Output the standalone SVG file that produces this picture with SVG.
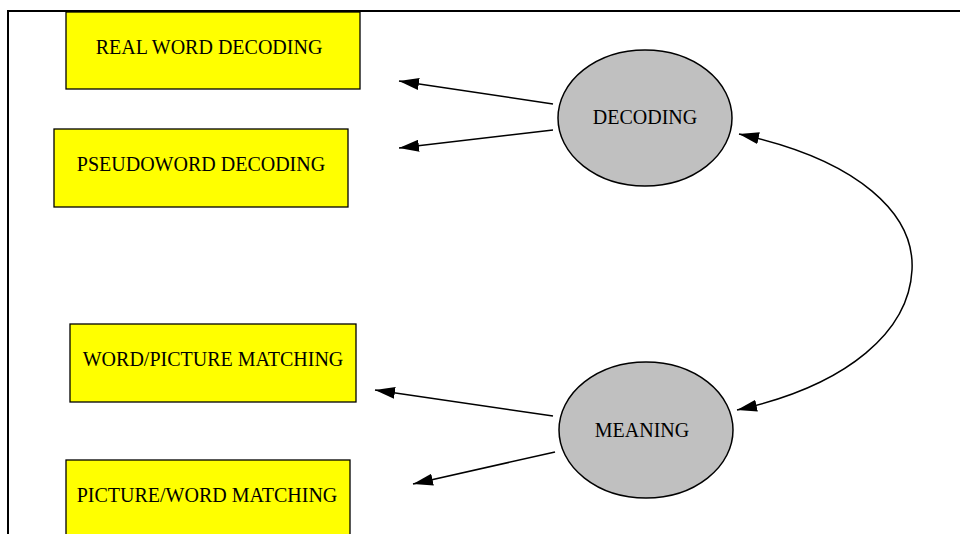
<svg xmlns="http://www.w3.org/2000/svg" width="960" height="534" viewBox="0 0 960 534">
  <style>
    .box { fill: #ffff00; stroke: #000; stroke-width: 1.3; }
    .latent { fill: #c0c0c0; stroke: #000; stroke-width: 1.5; }
    .lbl { font-family: "Liberation Serif", "Times New Roman", serif; font-size: 20px; fill: #000; text-anchor: middle; }
    .edge { fill: none; stroke: #000; stroke-width: 1.5; }
  </style>
  <defs>
    <marker id="arrow" viewBox="0 0 20 12" refX="20" refY="6" markerWidth="20" markerHeight="12" markerUnits="userSpaceOnUse" orient="auto">
      <path d="M0,0 L20,6 L0,12 Z" fill="#000"/>
    </marker>
    <marker id="arrowStart" viewBox="0 0 20 12" refX="0" refY="6" markerWidth="20" markerHeight="12" markerUnits="userSpaceOnUse" orient="auto">
      <path d="M20,0 L0,6 L20,12 Z" fill="#000"/>
    </marker>
  </defs>
  <rect width="960" height="534" fill="#fff"/>
  <!-- frame -->
  <path d="M8,534 V11 H960" fill="none" stroke="#000" stroke-width="2"/>

  <g id="real-word-decoding">
    <rect class="box" x="66" y="12" width="294" height="77"/>
    <text class="lbl" x="209" y="54">REAL WORD DECODING</text>
  </g>
  <g id="pseudoword-decoding">
    <rect class="box" x="54" y="129" width="294" height="78"/>
    <text class="lbl" x="201" y="171">PSEUDOWORD DECODING</text>
  </g>
  <g id="word-picture-matching">
    <rect class="box" x="70" y="324" width="286" height="78"/>
    <text class="lbl" x="213" y="366">WORD/PICTURE MATCHING</text>
  </g>
  <g id="picture-word-matching">
    <rect class="box" x="66" y="460" width="284" height="80"/>
    <text class="lbl" x="207" y="502">PICTURE/WORD MATCHING</text>
  </g>
  <g id="decoding">
    <ellipse class="latent" cx="645" cy="118" rx="87" ry="68"/>
    <text class="lbl" x="645" y="124">DECODING</text>
  </g>
  <g id="meaning">
    <ellipse class="latent" cx="646" cy="430" rx="87" ry="68"/>
    <text class="lbl" x="642" y="437">MEANING</text>
  </g>

  <g id="connectors">
    <line class="edge" x1="553" y1="104" x2="399" y2="81" marker-end="url(#arrow)"/>
    <line class="edge" x1="553" y1="130" x2="399" y2="148" marker-end="url(#arrow)"/>
    <line class="edge" x1="553" y1="416" x2="375" y2="390" marker-end="url(#arrow)"/>
    <line class="edge" x1="555" y1="452" x2="413" y2="484" marker-end="url(#arrow)"/>
    <path class="edge" d="M739,134 C860,160 915,215 912,270 C909,330 850,385 737,410" marker-start="url(#arrowStart)" marker-end="url(#arrow)"/>
  </g>
</svg>
